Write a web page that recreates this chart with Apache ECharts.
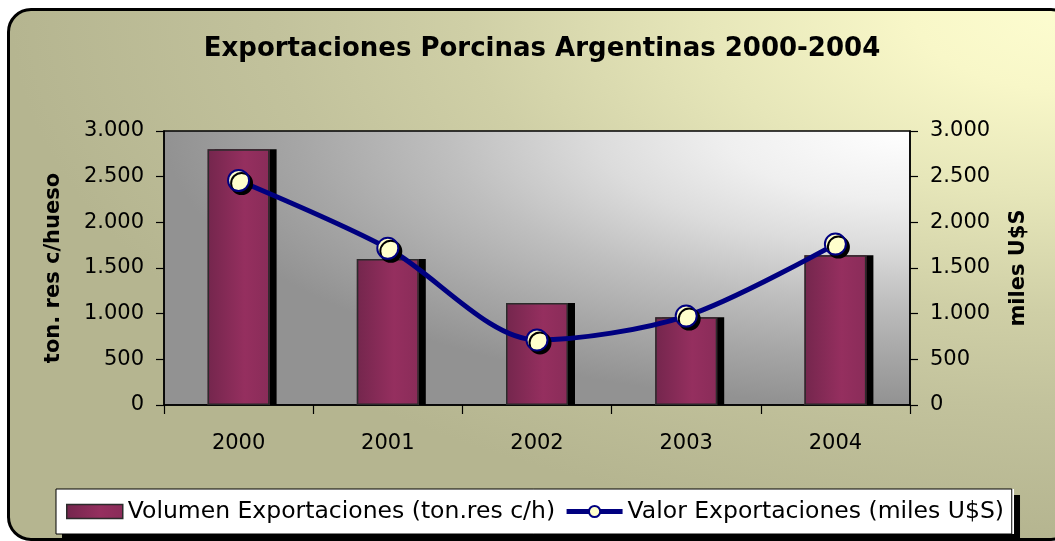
<!DOCTYPE html>
<html>
<head>
<meta charset="utf-8">
<title>Exportaciones Porcinas Argentinas 2000-2004</title>
<script src="https://cdn.jsdelivr.net/npm/echarts@6/dist/echarts.min.js"></script>
<style>
  html, body {
    margin: 0;
    padding: 0;
    width: 1055px;
    height: 541px;
    overflow: hidden;
    background: #ffffff;
  }
  /* marco redondeado con degradado oliva -> amarillo */
  .frame {
    position: absolute;
    left: 7px;
    top: 8px;
    width: 1062px;
    height: 527px;
    border: 3px solid #000;
    border-radius: 24px;
    background: radial-gradient(100% 100% at 100% 0%,
      #fdfdd0 0%, #f8f7c8 15%, #e6e6b9 35%, #cfcfa6 57%, #c2c29c 75%, #b5b590 100%);
  }
  /* fondo del area de trazado, se coloca sobre el rect del grid */
  .plot_bg {
    position: absolute;
    background: radial-gradient(100% 100% at 100% 0%,
      #ffffff 0%, #efefef 25%, #dcdcdc 42%, #bfbfbf 62%, #a6a6a6 82%, #929292 100%);
  }
  #chart {
    position: absolute;
    left: 0;
    top: 0;
    width: 1055px;
    height: 541px;
  }
</style>
</head>
<body>
<div class="frame"></div>
<div class="plot_bg" id="plot_bg"></div>
<div id="chart"></div>

<script>
// datos
const years = ["2000", "2001", "2002", "2003", "2004"];
const volumen = [2800, 1598, 1117, 960, 1640]; // ton. res c/hueso
const valor = [2458, 1716, 712, 974, 1762]; // miles U$S
const axisMin = 0;
const axisMax = 3000;
const axisStep = 500;

const volumenName = "Volumen Exportaciones (ton.res c/h)";
const valorName = "Valor Exportaciones (miles U$S)";

const FONT = "DejaVu Sans";

// 2500 -> "2.500"
function miles(v) {
  return String(v).replace(/\B(?=(\d{3})+(?!\d))/g, ".");
}

const chart = echarts.init(document.getElementById("chart"), null, { renderer: "canvas" });

const yAxisBase = {
  type: "value",
  min: axisMin,
  max: axisMax,
  interval: axisStep,
  nameLocation: "middle",
  nameRotate: 90,
  nameTextStyle: {
    fontFamily: FONT,
    fontWeight: "bold",
    fontSize: 21,
    color: "#000",
  },
  axisLine: {
    show: true,
    lineStyle: { color: "#000", width: 1.5 },
  },
  axisTick: {
    show: true,
    inside: false,
    length: 8,
    lineStyle: { color: "#000", width: 1.2 },
  },
  axisLabel: {
    fontFamily: FONT,
    fontSize: 21,
    color: "#000",
    margin: 20,
    formatter: miles,
  },
  splitLine: { show: false },
};

const barFill = new echarts.graphic.LinearGradient(0, 0, 1, 0, [
  { offset: 0, color: "#74264d" },
  { offset: 0.6, color: "#952f5f" },
  { offset: 1, color: "#8a2c59" },
]);

// comun a las dos leyendas (una pinta fondo+sombra+items, la otra solo el borde)
const legendBase = {
  left: 56,
  top: 489,
  orient: "horizontal",
  padding: [8, 10, 8, 10],
  itemGap: 9,
  itemWidth: 56,
  itemHeight: 14,
  borderRadius: 0,
  textStyle: {
    fontFamily: FONT,
    fontSize: 23.5,
    lineHeight: 29,
    color: "#000",
  },
};

const option = {
  backgroundColor: "transparent",
  animation: false,
  title: {
    text: "Exportaciones Porcinas Argentinas 2000-2004",
    left: 537,
    textAlign: "center",
    top: 31,
    textStyle: {
      fontFamily: FONT,
      fontWeight: "bold",
      fontSize: 26,
      color: "#000",
    },
  },
  legend: [
    Object.assign({}, legendBase, {
      backgroundColor: "#ffffff",
      borderWidth: 0,
      shadowColor: "#000",
      shadowBlur: 0,
      shadowOffsetX: 6,
      shadowOffsetY: 6,
      data: [
        {
          name: volumenName,
          icon: "rect",
          itemStyle: {
            color: barFill,
            borderColor: "#2b2b2b",
            borderWidth: 1.5,
            shadowColor: "transparent",
            shadowOffsetX: 0,
          },
        },
        {
          name: valorName,
          lineStyle: { color: "#000080", width: 5 },
          itemStyle: {
            color: "#ffffcc",
            borderColor: "#000080",
            borderWidth: 2,
            shadowColor: "transparent",
            shadowOffsetX: 0,
            shadowOffsetY: 0,
          },
        },
      ],
    }),
    Object.assign({}, legendBase, {
      backgroundColor: "transparent",
      borderColor: "#000",
      borderWidth: 1,
      selectedMode: false,
      z: 5,
      textStyle: Object.assign({}, legendBase.textStyle, { color: "transparent" }),
      data: [
        {
          name: volumenName,
          icon: "rect",
          itemStyle: { opacity: 0 },
        },
        {
          name: valorName,
          lineStyle: { opacity: 0 },
          itemStyle: { opacity: 0 },
        },
      ],
    }),
  ],
  grid: {
    left: 164,
    right: 145,
    top: 131,
    bottom: 136,
    containLabel: false,
    show: true,
    backgroundColor: "transparent",
    borderColor: "#000",
    borderWidth: 1.5,
  },
  xAxis: {
    type: "category",
    data: years,
    boundaryGap: true,
    axisLine: {
      show: true,
      lineStyle: { color: "#000", width: 1.5 },
    },
    axisTick: {
      show: true,
      inside: false,
      length: 9,
      alignWithLabel: false,
      lineStyle: { color: "#000", width: 1.2 },
    },
    axisLabel: {
      fontFamily: FONT,
      fontSize: 21,
      color: "#000",
      margin: 28,
    },
    splitLine: { show: false },
  },
  yAxis: [
    Object.assign({}, yAxisBase, {
      position: "left",
      name: "ton. res c/hueso",
      nameGap: 100,
    }),
    Object.assign({}, yAxisBase, {
      position: "right",
      name: "miles U$S",
      nameGap: 98,
    }),
  ],
  series: [
    {
      // relleno + sombra negra
      name: volumenName,
      type: "bar",
      yAxisIndex: 0,
      barWidth: 62,
      itemStyle: {
        color: barFill,
        borderWidth: 0,
        shadowColor: "#000",
        shadowBlur: 0,
        shadowOffsetX: 7,
        shadowOffsetY: 0,
      },
      data: volumen,
    },
    {
      // solo el borde de la barra (sin sombra)
      name: "volumen_borde",
      type: "bar",
      yAxisIndex: 0,
      barWidth: 62,
      barGap: "-100%",
      silent: true,
      itemStyle: {
        color: "transparent",
        borderColor: "#2b2b2b",
        borderWidth: 1.5,
      },
      data: volumen,
    },
    {
      name: valorName,
      type: "line",
      yAxisIndex: 1,
      smooth: 0.3,
      symbol: "circle",
      symbolSize: 21,
      showAllSymbol: true,
      z: 5,
      lineStyle: {
        color: "#000080",
        width: 5,
      },
      itemStyle: {
        color: "#ffffcc",
        borderColor: "#000080",
        borderWidth: 2,
        shadowColor: "#000",
        shadowBlur: 0,
        shadowOffsetX: 3,
        shadowOffsetY: 3,
      },
      data: valor,
    },
  ],
};

chart.setOption(option);

// el fondo degradado del area de trazado va detras del canvas, en el rect del grid
let rect = { x: 164, y: 131, width: 1055 - 164 - 145, height: 541 - 131 - 136 };
try {
  const grid = chart.getModel().getComponent("grid", 0);
  if (grid && grid.coordinateSystem) {
    rect = grid.coordinateSystem.getRect();
  }
} catch (e) {
  console.log("grid rect :>> ", e);
}
const bg = document.getElementById("plot_bg");
bg.style.left = rect.x + "px";
bg.style.top = rect.y + "px";
bg.style.width = rect.width + "px";
bg.style.height = rect.height + "px";
</script>
</body>
</html>
